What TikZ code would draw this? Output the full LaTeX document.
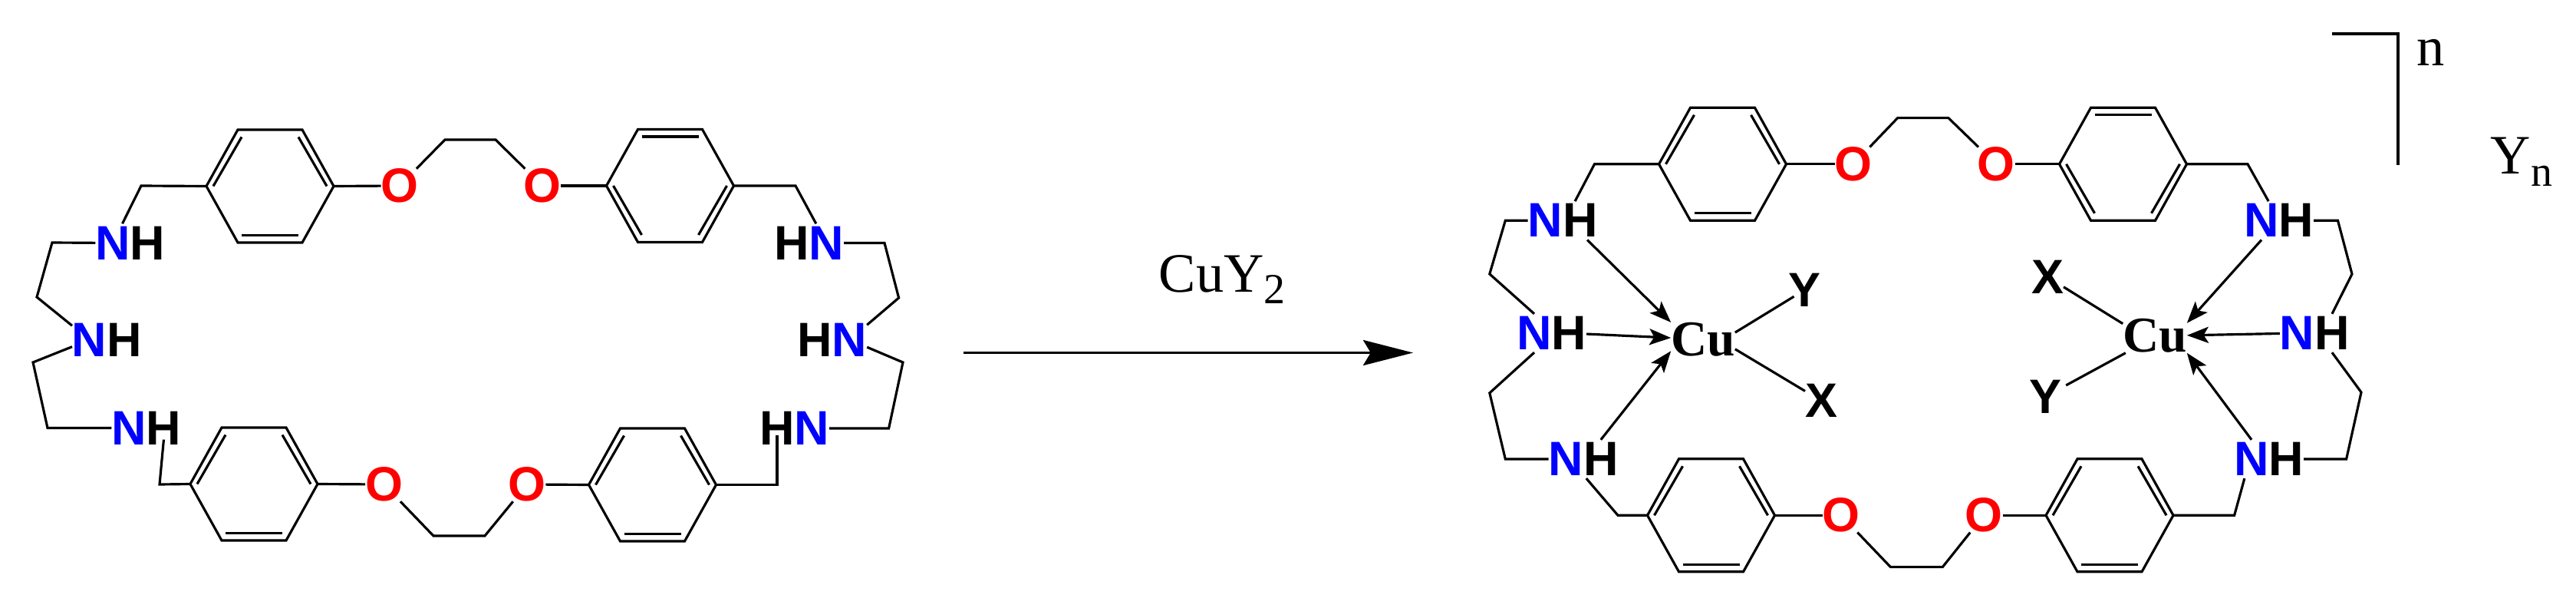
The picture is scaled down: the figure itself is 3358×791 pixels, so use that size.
\documentclass[tikz,border=0pt]{standalone}
\usepackage{fontspec}
\setmainfont{Liberation Serif}
\setsansfont{Liberation Sans}
\usepackage{tikz}
\usetikzlibrary{arrows.meta,positioning}

\tikzset{
    bond/.style={line width=0.9pt},
    donor/.style={bond,-{Stealth[length=8pt,width=6pt,inset=1.8pt]}},
    atom/.style={font=\fontsize{17.9}{20}\selectfont\sffamily\bfseries,inner sep=0pt,outer xsep=0pt,outer ysep=1pt},
    oxy/.style={atom,text=red,outer ysep=0pt},
    metal/.style={font=\fontsize{18.6}{20}\selectfont\rmfamily\bfseries,inner sep=0pt,outer sep=0pt},
    plain/.style={font=\fontsize{20.6}{24}\selectfont\rmfamily,inner sep=0pt,anchor=base west}
}
\newcommand{\lowsub}[1]{\raisebox{-4.4pt}{\fontsize{15.9}{18}\selectfont #1}}

\begin{document}
\begin{tikzpicture}[x=0.01cm,y=-0.01cm]
    \useasboundingbox (0,0) rectangle (3358,791);

    % Benzene rings, s flips the side of the double bonds
    \foreach \rname/\cx/\cy/\s in {a/352/242.5/1, d/873.5/242/-1, b/331/630.5/1, c/850.5/631.5/1,
                                   e/2245.5/213.8/1, f/2767.5/213.8/-1, g/2230.5/671.3/1, k/2750/671.3/1} {
        \begin{scope}[shift={(\cx,\cy)}]
            \coordinate (\rname-w) at (-83,0);
            \coordinate (\rname-e) at (83,0);
            \draw[bond] (\rname-w) -- (-42,-73.5) -- (42,-73.5) -- (\rname-e) -- (42,73.5) -- (-42,73.5) -- cycle;
            \draw[bond] ({-74},0) -- ({-37},{-64*\s});
            \draw[bond] ({74},0) -- ({37},{-64*\s});
            \draw[bond] ({-37},{64*\s}) -- ({37},{64*\s});
        \end{scope}
    }

    % Free ligand: atoms
    \node[atom,text=blue] (n1) at (147,316.5) {N};
    \node[atom,right=0pt of n1] (h1) {H};
    \node[atom,text=blue] (n2) at (116.7,442.6) {N};
    \node[atom,right=0pt of n2] (h2) {H};
    \node[atom,text=blue] (n3) at (168,558) {N};
    \node[atom,right=0pt of n3] (h3) {H};
    \node[atom] (h4) at (1013,558) {H};
    \node[atom,text=blue,right=0pt of h4] (n4) {N};
    \node[atom] (h5) at (1062,442.6) {H};
    \node[atom,text=blue,right=0pt of h5] (n5) {N};
    \node[atom] (h6) at (1032,316.5) {H};
    \node[atom,text=blue,right=0pt of h6] (n6) {N};
    \node[oxy] (o1) at (521,242) {O};
    \node[oxy] (o2) at (707,242) {O};
    \node[oxy] (o3) at (500.5,631) {O};
    \node[oxy] (o4) at (687,631) {O};

    % Free ligand: chains
    \draw[bond] (a-w) -- (184,242) coordinate (c1) -- (n1);
    \draw[bond] (n1) -- (68,316) coordinate (c2) -- (48,387) coordinate (c3) -- (n2);
    \draw[bond] (n2) -- (43,472) coordinate (c4) -- (62,557.5) coordinate (c5) -- (n3.west |- c5);
    \draw[bond] (b-w) -- (208,631) coordinate (c6) -- ([yshift=3pt]h3.south);
    \draw[bond] (a-e) -- (o1);
    \draw[bond] (o1) -- (580,182) coordinate (c7) -- (646,182) coordinate (c8) -- (o2);
    \draw[bond] (o2) -- (d-w);
    \draw[bond] (d-e) -- (1037,242) coordinate (c9) -- (n6);
    \draw[bond] (n6) -- (1153,316.5) coordinate (c10) -- (1171.6,388) coordinate (c11) -- (n5);
    \draw[bond] (n5) -- (1177,472) coordinate (c12) -- (1158.6,558) coordinate (c13) -- (n4);
    \draw[bond] ([yshift=4.5pt]h4.south) -- (1013,631.5) coordinate (c14) -- (c-e);
    \draw[bond] (b-e) -- (o3);
    \draw[bond] (o3) -- (565,698) coordinate (c15) -- (632,698) coordinate (c16) -- (o4);
    \draw[bond] (o4) -- (c-w);

    % Reaction arrow
    \coordinate (rstart) at (1256,459.5);
    \coordinate (rend) at (1842,459.5);
    \draw[line width=0.85pt,-{Stealth[length=18.5pt,width=9.4pt,inset=2.8pt]}] (rstart) -- (rend);
    \node[plain] (reagent) at (1510,380) {CuY\lowsub{2}};

    % Complex: atoms
    \node[atom,text=blue] (n7) at (2014.4,287.3) {N};
    \node[atom,right=0pt of n7] (h7) {H};
    \node[atom,text=blue] (n8) at (2000,434) {N};
    \node[atom,right=0pt of n8] (h8) {H};
    \node[atom,text=blue] (n9) at (2041.3,598) {N};
    \node[atom,right=0pt of n9] (h9) {H};
    \node[atom,text=blue] (n10) at (2935,598) {N};
    \node[atom,right=0pt of n10] (h10) {H};
    \node[atom,text=blue] (n11) at (2994.5,434) {N};
    \node[atom,right=0pt of n11] (h11) {H};
    \node[atom,text=blue] (n12) at (2948,287.3) {N};
    \node[atom,right=0pt of n12] (h12) {H};
    \node[oxy] (o5) at (2416,213.8) {O};
    \node[oxy] (o6) at (2602,213.8) {O};
    \node[oxy] (o7) at (2400,671.3) {O};
    \node[oxy] (o8) at (2586,671.3) {O};
    \node[metal] (cu1) at (2220,442) {Cu};
    \node[metal] (cu2) at (2809,437.7) {Cu};
    \node[atom] (y1) at (2352,378) {Y};
    \node[atom] (x1) at (2374,522) {X};
    \node[atom] (x2) at (2669,360.8) {X};
    \node[atom] (y2) at (2666,516.7) {Y};

    % Complex: chains
    \draw[bond] (e-w) -- (2078.5,213.8) coordinate (c17) -- (h7.105);
    \draw[bond] (n7) -- (1962.3,287.3) coordinate (c18) -- (1941.8,356.9) coordinate (c19) -- (n8.north);
    \draw[bond] (n8.south) -- (1941.8,511.9) coordinate (c20) -- (1962.3,598) coordinate (c21) -- (n9);
    \draw[bond] (h9.-127) -- (2109,671.3) coordinate (c22) -- (g-w);
    \draw[bond] (e-e) -- (o5);
    \draw[bond] (o5) -- (2473.7,153.6) coordinate (c23) -- (2539.8,153.6) coordinate (c24) -- (o6);
    \draw[bond] (o6) -- (f-w);
    \draw[bond] (f-e) -- (2930,213.8) coordinate (c25) -- (n12.70);
    \draw[bond] (h12) -- (3047.5,287.3) coordinate (c26) -- (3066,357) coordinate (c27) -- (h11.north);
    \draw[bond] (h11.south) -- (3078,511) coordinate (c28) -- (3058.6,598) coordinate (c29) -- (h10);
    \draw[bond] (n10.-110) -- (2912.6,671.3) coordinate (c30) -- (k-e);
    \draw[bond] (g-e) -- (o7);
    \draw[bond] (o7) -- (2464.4,738.6) coordinate (c31) -- (2532.3,738.6) coordinate (c32) -- (o8);
    \draw[bond] (o8) -- (k-w);

    % Coordination to copper
    \draw[donor] (h7.-70) -- (cu1.north west);
    \draw[donor] (h8) -- (cu1);
    \draw[donor] (h9.north) -- (cu1.-160);
    \draw[bond,shorten >=-2.5pt] (cu1.12) -- (y1);
    \draw[bond] (cu1.-17) -- (x1);
    \draw[donor] (n12.south) -- (cu2.22);
    \draw[donor] (n11) -- (cu2);
    \draw[donor] (n10.north) -- (cu2.south east);
    \draw[bond] (cu2.159) -- (x2);
    \draw[bond,shorten >=2pt] (cu2.-150) -- (y2);

    % Bracket and counter ion
    \coordinate (brstart) at (3040,44);
    \coordinate (brcorner) at (3126,44);
    \coordinate (brend) at (3126,215);
    \draw[line width=0.9pt] (brstart) -- (brcorner) -- (brend);
    \node[plain] (charge) at (3150,85.7) {n};
    \node[plain] (counter) at (3246,226.7) {Y\lowsub{n}};
\end{tikzpicture}
\end{document}
